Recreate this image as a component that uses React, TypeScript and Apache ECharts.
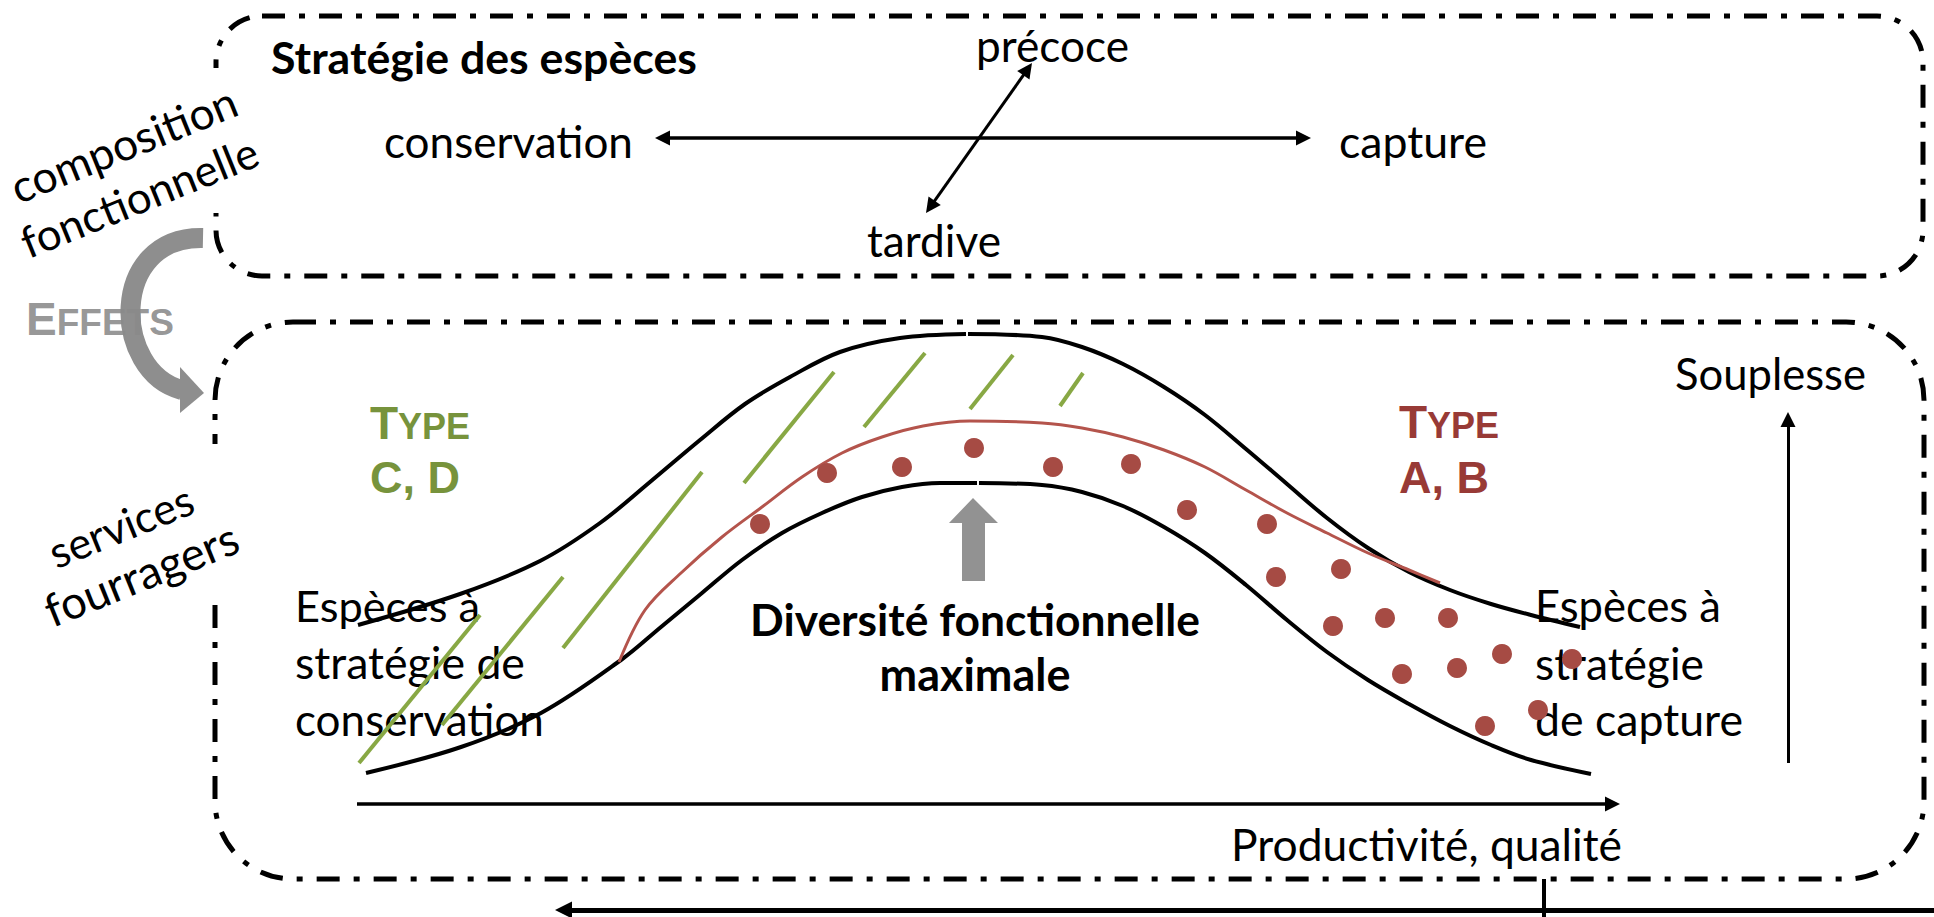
import React, { useEffect, useRef } from 'react';
import * as echarts from 'echarts';

const W = 1934;
const H = 917;

// ---- data (diagram units = reference pixels) ----
const upperLeft = [[358,625],[460,594],[540,561],[600,523],[650,482],[700,440],[745,404],[790,377],[840,352],[900,338],[966,334]];
const upperRight = [[968,334],[1042,337],[1082,347],[1123,364],[1164,387],[1205,415],[1246,449],[1287,484],[1327,518],[1368,548],[1409,572],[1450,590],[1491,604],[1531,615],[1580,627]];
const lowerLeft = [[366,773],[461,747],[541,713],[621,660],[661,627],[702,593],[742,560],[782,533],[822,513],[862,497],[902,487],[940,483],[977,483]];
const lowerRight = [[979,483],[1042,485],[1082,492],[1123,506],[1164,527],[1205,553],[1246,585],[1287,620],[1327,652],[1368,680],[1409,704],[1450,726],[1491,745],[1531,760],[1591,774]];
const redCurve = [[619,662],[645,610],[681,573],[722,537],[762,507],[802,477],[842,453],[882,437],[923,426],[970,421],[1042,423],[1082,428],[1123,437],[1164,450],[1205,467],[1246,490],[1287,513],[1327,533],[1368,553],[1409,570],[1440,583]];
const redDots = [[760,524],[827,473],[902,467],[974,448],[1053,467],[1131,464],[1187,510],[1267,524],[1276,577],[1341,569],[1333,626],[1385,618],[1448,618],[1502,654],[1572,659],[1402,674],[1457,668],[1538,710],[1485,726]];
const greenHatch = [[[359,763],[480,615]],[[442,725],[563,577]],[[563,648],[702,472]],[[744,483],[834,372]],[[864,427],[925,353]],[[970,409],[1013,355]],[[1060,406],[1083,373]]];

const arrowStrategy = [[655,138],[1311,138]];
const arrowPhenology = [[926,213],[1032,63]];
const arrowProductivity = [[357,804],[1620,804]];
const arrowSouplesse = [[1788,763],[1788,412]];
const arrowBottom = [[1934,910],[555,910]];
const tickBottom = [[1544,879],[1544,917]];

const topBox = [[216,16],[1923,276]];
const bottomBox = [[215,322],[1924,879]];
const maskTop = [[204,68],[228,213]];
const maskBottom = [[204,444],[228,599]];
const effetsArrow = [[203,238],[108,236],[112,372],[182,390]];
const effetsHead = [[180,367],[204,393],[180,413]];
const diversityArrow = [[973,498],[998,523],[985,523],[985,581],[962,581],[962,523],[949,523]];

// texts: [text, left x, baseline y, target width]
const regularTexts: [string, number, number, number][] = [
  ['précoce', 976, 60, 153],
  ['conservation', 384, 157, 249],
  ['capture', 1339, 157, 148],
  ['tardive', 867, 255, 134],
  ['Espèces à', 295, 621, 185],
  ['stratégie de', 295, 678, 230],
  ['conservation', 295, 735, 249],
  ['Espèces à', 1535, 621, 186],
  ['stratégie', 1535, 678, 169],
  ['de capture', 1535, 735, 208],
  ['Productivité, qualité', 1231, 859, 391],
  ['Souplesse', 1675, 389, 191],
];
// rotated: [text, baseline start x, y, length]
const rotatedTexts: [string, number, number, number][] = [
  ['composition', 18, 203, 240],
  ['fonctionnelle', 28, 258, 252],
  ['services', 56, 568, 152],
  ['fourragers', 52, 627, 205],
];
// bold: [text, center x, baseline y, target width]
const boldTexts: [string, number, number, number][] = [
  ['Stratégie des espèces', 484, 73, 426],
  ['Diversité fonctionnelle', 975, 634, 450],
  ['maximale', 975, 690, 191],
];

const FONT = 'Lato';
const FONT_B = 'Lato';
const ARIAL = '"Liberation Sans"';
const K_LATO = 0.36;
const K_ARIAL = 0.3465;
const ANGLE = 22;

let ctx: CanvasRenderingContext2D | null = null;
function measure(text: string, font: string) {
  if (!ctx) ctx = document.createElement('canvas').getContext('2d');
  ctx!.font = font;
  return ctx!.measureText(text).width;
}
function fit(text: string, weight: string, family: string, target: number) {
  return (100 * target) / measure(text, `${weight} 100px ${family}`);
}

function shorten(a: number[], b: number[], d: number) {
  const dx = b[0] - a[0], dy = b[1] - a[1];
  const L = Math.hypot(dx, dy);
  return [b[0] - (dx / L) * d, b[1] - (dy / L) * d];
}

function arrowSeries(pts: number[][], both: boolean, width: number, head: number) {
  const from = both ? shorten(pts[1], pts[0], head / 2) : pts[0];
  const to = shorten(pts[0], pts[1], head / 2);
  return {
    type: 'lines',
    coordinateSystem: 'cartesian2d',
    silent: true,
    z: 5,
    symbol: [both ? 'triangle' : 'none', 'triangle'],
    symbolSize: head,
    lineStyle: { color: '#000', width, opacity: 1, curveness: 0 },
    data: [{ coords: [from, to] }],
  };
}

function curve(data: number[][], color: string, width: number) {
  return {
    type: 'line', data, smooth: 0.35, symbol: 'none', silent: true, z: 3,
    lineStyle: { color, width }, clip: false,
  };
}

export default function App() {
  const ref = useRef<HTMLDivElement>(null);
  useEffect(() => {
    const chart = echarts.init(ref.current!, null, { renderer: 'svg' });
    chart.setOption({
      animation: false,
      backgroundColor: '#ffffff',
      grid: { left: 0, right: 0, top: 0, bottom: 0 },
      xAxis: { type: 'value', min: 0, max: W, show: false },
      yAxis: { type: 'value', min: 0, max: H, inverse: true, show: false },
      series: [
        curve(upperLeft, '#000', 4),
        curve(upperRight, '#000', 4),
        curve(lowerLeft, '#000', 4),
        curve(lowerRight, '#000', 4),
        curve(redCurve, '#B4544C', 3),
        {
          type: 'lines', coordinateSystem: 'cartesian2d', silent: true, z: 3,
          lineStyle: { color: '#88A844', width: 4, opacity: 1 },
          data: greenHatch.map((c) => ({ coords: c })),
        },
        {
          type: 'scatter', data: redDots, symbolSize: 20, silent: true, z: 4,
          itemStyle: { color: '#A64B44', opacity: 1 },
        },
        arrowSeries(arrowStrategy, true, 3.5, 15),
        arrowSeries(arrowPhenology, true, 3, 15),
        arrowSeries(arrowProductivity, false, 3.5, 15),
        arrowSeries(arrowSouplesse, false, 3, 15),
        arrowSeries(arrowBottom, false, 5, 17),
        {
          type: 'lines', coordinateSystem: 'cartesian2d', silent: true, z: 5,
          lineStyle: { color: '#000', width: 4, opacity: 1 },
          data: [{ coords: tickBottom }],
        },
      ],
    });

    const px = (p: number[]) => chart.convertToPixel({ gridIndex: 0 }, p) as number[];
    const rectOf = (r: number[][]) => {
      const a = px(r[0]), b = px(r[1]);
      return { x: a[0], y: a[1], width: b[0] - a[0], height: b[1] - a[1] };
    };
    const dash = [23, 14, 6, 14];
    const g: any[] = [];
    g.push({ type: 'rect', shape: { ...rectOf(topBox), r: 46 }, style: { fill: 'none', stroke: '#000', lineWidth: 5, lineDash: dash } });
    g.push({ type: 'rect', shape: { ...rectOf(bottomBox), r: 78 }, style: { fill: 'none', stroke: '#000', lineWidth: 5, lineDash: dash } });
    g.push({ type: 'rect', shape: rectOf(maskTop), style: { fill: '#fff' } });
    g.push({ type: 'rect', shape: rectOf(maskBottom), style: { fill: '#fff' } });

    // curved grey arrow
    const b0 = px(effetsArrow[0]), b1 = px(effetsArrow[1]), b2 = px(effetsArrow[2]), b3 = px(effetsArrow[3]);
    g.push({ type: 'bezierCurve', shape: { x1: b0[0], y1: b0[1], cpx1: b1[0], cpy1: b1[1], cpx2: b2[0], cpy2: b2[1], x2: b3[0], y2: b3[1] }, style: { stroke: '#8E8E8E', lineWidth: 20, fill: 'none' } });
    g.push({ type: 'polygon', shape: { points: effetsHead.map(px) }, style: { fill: '#8E8E8E' } });
    g.push({ type: 'polygon', shape: { points: diversityArrow.map(px) }, style: { fill: '#929292' } });

    // EFFETS label (drawn over the arrow)
    const eSize = 46, fSize = 37;
    const ep = px([26, 335]);
    const eW = measure('E', `bold ${eSize}px ${ARIAL}`);
    g.push({ type: 'text', x: ep[0], y: ep[1] - K_ARIAL * eSize, style: { text: 'E', fontSize: eSize, fontWeight: 'bold', fontFamily: ARIAL, fill: '#8A8A8A', opacity: 0.9, align: 'left', verticalAlign: 'middle' } });
    g.push({ type: 'text', x: ep[0] + eW, y: ep[1] - K_ARIAL * fSize, style: { text: 'FFETS', fontSize: fSize, fontWeight: 'bold', fontFamily: ARIAL, fill: '#8A8A8A', opacity: 0.9, align: 'left', verticalAlign: 'middle' } });

    // Types
    const typeLabel = (x: number, bl1: number, bl2: number, second: string, color: string) => {
      const p1 = px([x, bl1]);
      const tS = 46, sS = 36;
      const tW = measure('T', `bold ${tS}px ${ARIAL}`);
      g.push({ type: 'text', x: p1[0], y: p1[1] - K_ARIAL * tS, style: { text: 'T', fontSize: tS, fontWeight: 'bold', fontFamily: ARIAL, fill: color, align: 'left', verticalAlign: 'middle' } });
      g.push({ type: 'text', x: p1[0] + tW, y: p1[1] - K_ARIAL * sS, style: { text: 'YPE', fontSize: sS, fontWeight: 'bold', fontFamily: ARIAL, fill: color, align: 'left', verticalAlign: 'middle' } });
      const p2 = px([x, bl2]);
      g.push({ type: 'text', x: p2[0], y: p2[1] - K_ARIAL * 45, style: { text: second, fontSize: 45, fontWeight: 'bold', fontFamily: ARIAL, fill: color, align: 'left', verticalAlign: 'middle' } });
    };
    typeLabel(370, 439, 493, 'C, D', '#77933C');
    typeLabel(1399, 438, 493, 'A, B', '#983A36');

    for (const [t, x, bl, w] of regularTexts) {
      const s = fit(t, 'normal', FONT, w);
      const p = px([x, bl]);
      g.push({ type: 'text', x: p[0], y: p[1] - K_LATO * s, style: { text: t, fontSize: s, fontFamily: FONT, fill: '#000', align: 'left', verticalAlign: 'middle' } });
    }
    for (const [t, cx, bl, w] of boldTexts) {
      const s = fit(t, 'bold', FONT_B, w);
      const p = px([cx, bl]);
      g.push({ type: 'text', x: p[0], y: p[1] - K_LATO * s, style: { text: t, fontSize: s, fontWeight: 'bold', fontFamily: FONT_B, fill: '#000', align: 'center', verticalAlign: 'middle' } });
    }
    const th = (ANGLE * Math.PI) / 180;
    for (const [t, x, y, len] of rotatedTexts) {
      const s = fit(t, 'normal', FONT, len);
      const p = px([x, y]);
      g.push({ type: 'text', x: p[0] - K_LATO * s * Math.sin(th), y: p[1] - K_LATO * s * Math.cos(th), rotation: th, style: { text: t, fontSize: s, fontFamily: FONT, fill: '#000', align: 'left', verticalAlign: 'middle' } });
    }

    chart.setOption({ graphic: g });
    return () => chart.dispose();
  }, []);
  return <div ref={ref} style={{ position: 'fixed', left: 0, top: 0, width: W, height: H, background: '#fff' }} />;
}
